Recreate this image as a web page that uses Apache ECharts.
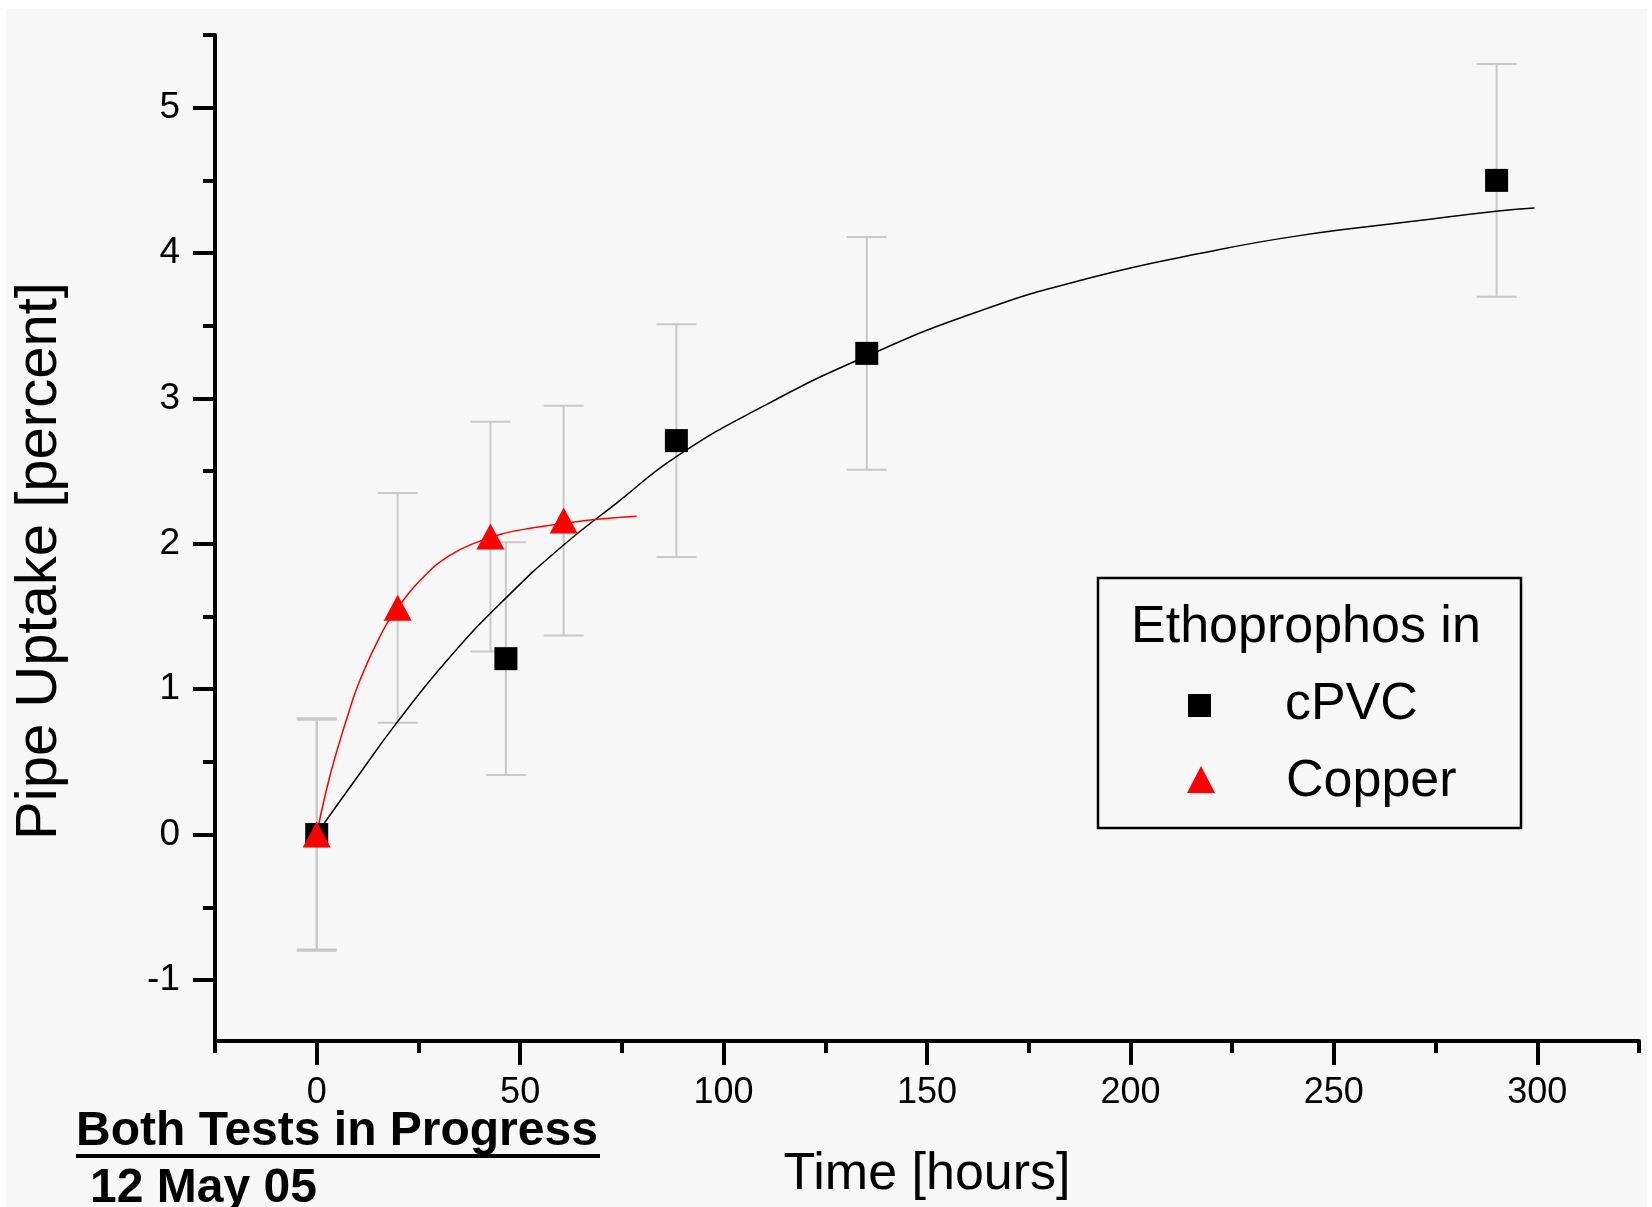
<!DOCTYPE html>
<html lang="en">
<head>
  <meta charset="UTF-8">
  <title>Ethoprophos pipe uptake</title>
  <script type="text/javascript" src="https://fastly.jsdelivr.net/npm/echarts@6.0.0/dist/echarts.min.js"></script>
  <style>
    html, body, #container {
      width: 100%;
      height: 100%;
      margin: 0;
      padding: 0;
      overflow: hidden;
      background: #ffffff;
    }
  </style>
</head>
<body>
  <div id="container"></div>

  <script type="text/javascript">
    // measured points (hours, percent) with error half-widths
    var cpvcTime = [0, 46.5, 88.4, 135.2, 290];
    var cpvcUptake = [0, 1.21, 2.71, 3.31, 4.5];
    var cpvcErr = [0.8, 0.8, 0.8, 0.8, 0.8];

    var copperTime = [0, 19.9, 42.7, 60.7];
    var copperUptake = [0, 1.56, 2.05, 2.16];
    var copperErr = [0.79, 0.79, 0.79, 0.79];

    // fitted curves
    var cpvcFitTime = [0, 2.4, 10.6, 19.7, 32.7, 46.6, 60.6, 73.7, 88.4, 110, 135.1, 162.8, 190.2, 217.6, 241.5, 270, 290.4, 299.3];
    var cpvcFitUptake = [0, 0.1, 0.42, 0.77, 1.22, 1.63, 1.99, 2.28, 2.6, 2.95, 3.29, 3.6, 3.83, 4.0, 4.12, 4.22, 4.29, 4.31];
    var copperFitTime = [0, 2.4, 4.9, 8.2, 10.6, 15.5, 19.7, 26.2, 32.7, 39.3, 45.8, 53.2, 60.6, 69.6, 78.6];
    var copperFitUptake = [0, 0.31, 0.57, 0.87, 1.06, 1.36, 1.55, 1.77, 1.92, 2.01, 2.07, 2.11, 2.14, 2.17, 2.19];

    var xMajor = [0, 50, 100, 150, 200, 250, 300];
    var xMinor = [-25, 25, 75, 125, 175, 225, 275, 325];
    var yMajor = [-1, 0, 1, 2, 3, 4, 5];
    var yMinor = [-0.5, 0.5, 1.5, 2.5, 3.5, 4.5, 5.5];

    var FONT = '"Liberation Sans", Arial, Helvetica, sans-serif';

    function zip(a, b, c) {
      return a.map(function (v, i) { return c ? [v, b[i], c[i]] : [v, b[i]]; });
    }

    function errorBar(params, api) {
      var x = api.value(0), y = api.value(1), e = api.value(2);
      var lo = api.coord([x, y - e]);
      var hi = api.coord([x, y + e]);
      var half = 20;
      var style = { stroke: '#c8c8c8', lineWidth: 2 };
      return {
        type: 'group',
        children: [
          { type: 'line', shape: { x1: lo[0], y1: lo[1], x2: hi[0], y2: hi[1] }, style: style },
          { type: 'line', shape: { x1: hi[0] - half, y1: hi[1], x2: hi[0] + half, y2: hi[1] }, style: style },
          { type: 'line', shape: { x1: lo[0] - half, y1: lo[1], x2: lo[0] + half, y2: lo[1] }, style: style }
        ]
      };
    }

    var axisLineStyle = { color: '#000', width: 4 };

    var myChart = echarts.init(document.getElementById('container'), null, { renderer: 'canvas' });
    myChart.setOption({
      animation: false,
      backgroundColor: '#ffffff',
      grid: { left: 215, right: 13, top: 35, bottom: 166 },
      graphic: [
        { type: 'rect', z: -10, shape: { x: 6, y: 9, width: 1641, height: 1198 }, style: { fill: '#f7f7f7' } },
        // legend box
        { type: 'rect', shape: { x: 1098, y: 578, width: 423, height: 250 }, style: { fill: 'none', stroke: '#000', lineWidth: 2.5 } },
        { type: 'text', x: 1131, y: 628, style: { text: 'Ethoprophos in', font: '52px ' + FONT, fill: '#000', verticalAlign: 'middle' } },
        { type: 'rect', shape: { x: 1188, y: 694, width: 23, height: 23 }, style: { fill: '#000' } },
        { type: 'text', x: 1285, y: 705, style: { text: 'cPVC', font: '52px ' + FONT, fill: '#000', verticalAlign: 'middle' } },
        { type: 'polygon', shape: { points: [[1201, 766], [1187, 793], [1215, 793]] }, style: { fill: '#ff0000' } },
        { type: 'text', x: 1286, y: 782, style: { text: 'Copper', font: '52px ' + FONT, fill: '#000', verticalAlign: 'middle' } },
        // y axis title
        { type: 'text', x: 40, y: 561, rotation: Math.PI / 2, style: { text: 'Pipe Uptake [percent]', font: '58px ' + FONT, fill: '#000', align: 'center', verticalAlign: 'middle' } },
        // note
        { type: 'text', x: 76, y: 1132, style: { text: 'Both Tests in Progress', font: 'bold 48px ' + FONT, fill: '#000', verticalAlign: 'middle' } },
        { type: 'rect', shape: { x: 76, y: 1154, width: 524, height: 4 }, style: { fill: '#000' } },
        { type: 'text', x: 90, y: 1189, style: { text: '12 May 05', font: 'bold 48px ' + FONT, fill: '#000', verticalAlign: 'middle' } }
      ],
      xAxis: [{
        type: 'value',
        position: 'bottom',
        min: -25,
        max: 325,
        name: 'Time [hours]',
        nameLocation: 'middle',
        nameGap: 134,
        nameTextStyle: { fontFamily: FONT, fontSize: 52, color: '#000', verticalAlign: 'middle' },
        axisLine: { onZero: false, lineStyle: axisLineStyle },
        axisTick: { customValues: xMajor, length: 24, lineStyle: { color: '#000', width: 4 } },
        axisLabel: { customValues: xMajor, margin: 34, fontFamily: FONT, fontSize: 36, color: '#000' },
        splitLine: { show: false }
      }, {
        type: 'value',
        position: 'bottom',
        min: -25,
        max: 325,
        axisLine: { show: false, onZero: false },
        axisTick: { customValues: xMinor, length: 12, lineStyle: { color: '#000', width: 4 } },
        axisLabel: { show: false },
        splitLine: { show: false }
      }],
      yAxis: [{
        type: 'value',
        position: 'left',
        min: -1.42,
        max: 5.5,
        axisLine: { show: true, onZero: false, lineStyle: axisLineStyle },
        axisTick: { show: true, customValues: yMajor, length: 22, lineStyle: { color: '#000', width: 4 } },
        axisLabel: { customValues: yMajor, margin: 35, fontFamily: FONT, fontSize: 37, color: '#000' },
        splitLine: { show: false }
      }, {
        type: 'value',
        position: 'left',
        min: -1.42,
        max: 5.5,
        axisLine: { show: false, onZero: false },
        axisTick: { show: true, customValues: yMinor, length: 12, lineStyle: { color: '#000', width: 4 } },
        axisLabel: { show: false },
        splitLine: { show: false }
      }],
      series: [
        {
          name: 'cPVC error', type: 'custom', z: 1,
          renderItem: errorBar, data: zip(cpvcTime, cpvcUptake, cpvcErr)
        },
        {
          name: 'Copper error', type: 'custom', z: 1,
          renderItem: errorBar, data: zip(copperTime, copperUptake, copperErr)
        },
        {
          name: 'cPVC fit', type: 'line', z: 2, smooth: 0.5, showSymbol: false,
          lineStyle: { color: '#000', width: 1.5 }, data: zip(cpvcFitTime, cpvcFitUptake)
        },
        {
          name: 'Copper fit', type: 'line', z: 2, smooth: 0.5, showSymbol: false,
          lineStyle: { color: '#ff0000', width: 1.5 }, data: zip(copperFitTime, copperFitUptake)
        },
        {
          name: 'cPVC', type: 'scatter', z: 3, symbol: 'rect', symbolSize: 23,
          itemStyle: { color: '#000', opacity: 1 }, data: zip(cpvcTime, cpvcUptake)
        },
        {
          name: 'Copper', type: 'scatter', z: 4, symbol: 'triangle', symbolSize: [28, 26],
          itemStyle: { color: '#ff0000', opacity: 1 }, data: zip(copperTime, copperUptake)
        }
      ]
    });
  </script>
</body>
</html>
